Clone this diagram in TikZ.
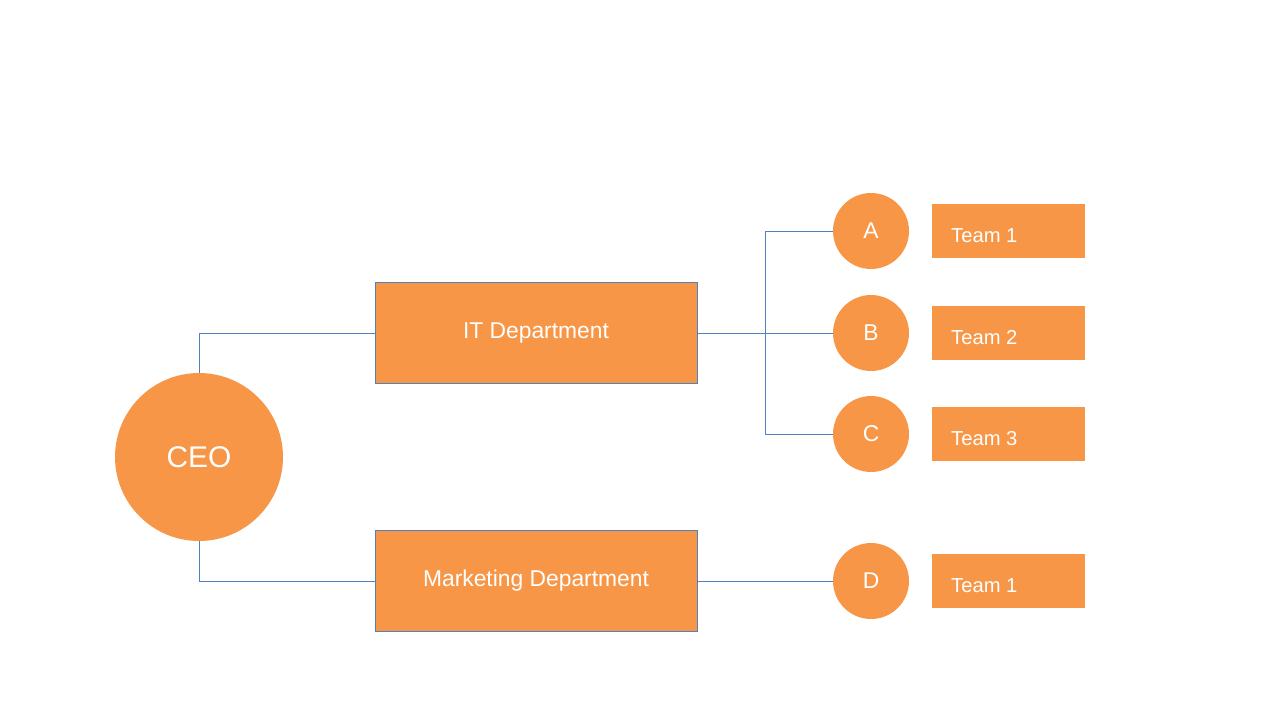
\documentclass[tikz,border=0pt]{standalone}
\usepackage{fontspec}
\setmainfont{Liberation Sans}
\usetikzlibrary{positioning}
\definecolor{boxorange}{HTML}{F79646}
\definecolor{linkblue}{HTML}{4F81BD}
\tikzset{
    boss/.style={circle, fill=boxorange, minimum size=3.36cm, inner sep=0pt, text=white, font=\fontsize{17}{20}\selectfont}, % CEO
    dept/.style={rectangle, fill=boxorange, draw=linkblue, line width=0.4pt, minimum width=6.44cm, minimum height=2.02cm, text=white, font=\fontsize{13}{15}\selectfont},
    unit/.style={circle, fill=boxorange, minimum size=1.52cm, inner sep=0pt, text=white, font=\fontsize{13}{15}\selectfont},
    team/.style={rectangle, fill=boxorange, minimum width=3.06cm, minimum height=1.07cm, text=white, font=\fontsize{11.5}{13}\selectfont, align=left, anchor=north west},
    link/.style={draw=linkblue, line width=0.5pt}
}
\begin{document}
\begin{tikzpicture}[x=0.02cm, y=-0.02cm]
    \useasboundingbox (0,0) rectangle (1280,720);

    \node[boss] (ceo) at (199,457) {CEO};
    \node[dept] (it) at (536,333) {IT Department};
    \node[dept] (mkt) at (536,581) {Marketing Department};

    \node[unit] (a) at (871,231) {A};
    \node[unit] (b) at (871,333) {B};
    \node[unit] (c) at (871,434) {C};
    \node[unit] (d) at (871,581) {D};

    % team boxes, text sits low and to the left
    \foreach \name/\y/\txt in {t1/204/Team 1, t2/306/Team 2, t3/407/Team 3, t4/554/Team 1} {
        \node[team] (\name) at (932,\y) {};
        \node[anchor=base west, text=white, font=\fontsize{11.5}{13}\selectfont] at ([xshift=0.26cm, yshift=0.31cm]\name.south west) {\txt};
    }

    \coordinate (fork) at (765,333);
    \draw[link] (ceo.north) |- (it.west);
    \draw[link] (ceo.south) |- (mkt.west);
    \draw[link] (it.east) -- (fork);
    \draw[link] (fork) |- (a.west);
    \draw[link] (fork) -- (b.west);
    \draw[link] (fork) |- (c.west);
    \draw[link] (mkt.east) -- (d.west);
\end{tikzpicture}
\end{document}
